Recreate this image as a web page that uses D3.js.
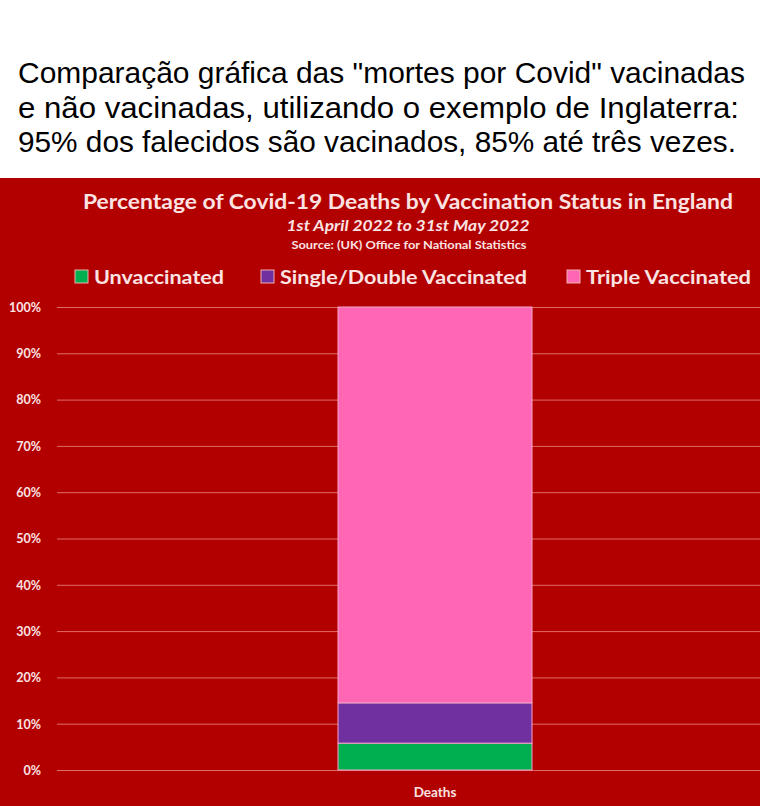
<!DOCTYPE html>
<html><head><meta charset="utf-8">
<script src="https://cdn.jsdelivr.net/npm/d3@7"></script>
<style>html,body{margin:0;padding:0;background:#fff;}svg{display:block;}</style>
</head><body>
<svg id="c" width="760" height="806"></svg>
<script>
const captionLines = [
  'Comparação gráfica das "mortes por Covid" vacinadas',
  'e não vacinadas, utilizando o exemplo de Inglaterra:',
  '95% dos falecidos são vacinados, 85% até três vezes.'
];
const chartTitle = "Percentage of Covid-19 Deaths by Vaccination Status in England";
const chartSubtitle = "1st April 2022 to 31st May 2022";
const chartSource = "Source: (UK) Office for National Statistics";
const categories = ["Deaths"];
const seriesNames = ["Unvaccinated", "Single/Double Vaccinated", "Triple Vaccinated"];
const seriesColors = ["#00b050", "#7030a0", "#ff66b3"];
const unvaccinated = [5.8];
const singleDouble = [8.7];
const triple = [85.5];
const yTicks = [0,10,20,30,40,50,60,70,80,90,100];

const svg = d3.select("#c");
const W = 760, H = 806;
const bg = "#b20000";
const txt = "#fbe3e3";

// caption
const capY = [83, 118, 152];
captionLines.forEach((t,i)=>{
  svg.append("text").attr("x",18).attr("y",capY[i])
    .attr("font-family","Liberation Sans, Arial, sans-serif")
    .attr("font-size",30).attr("fill","#000")
    .attr("textLength", i===0?727:(i===1?721:718)).attr("lengthAdjust","spacingAndGlyphs")
    .text(t);
});

// red panel
svg.append("rect").attr("x",0).attr("y",178).attr("width",W).attr("height",H-178).attr("fill",bg);

const ff = "Lato, 'Open Sans', sans-serif";
svg.append("text").attr("x",408).attr("y",209).attr("text-anchor","middle")
  .attr("font-family",ff).attr("font-weight","bold").attr("font-size",21).attr("fill",txt)
  .attr("textLength",650).attr("lengthAdjust","spacingAndGlyphs").text(chartTitle);
svg.append("text").attr("x",408).attr("y",231).attr("text-anchor","middle")
  .attr("font-family",ff).attr("font-weight","bold").attr("font-style","italic").attr("font-size",15).attr("fill",txt)
  .attr("textLength",243).attr("lengthAdjust","spacingAndGlyphs").text(chartSubtitle);
svg.append("text").attr("x",409).attr("y",249).attr("text-anchor","middle")
  .attr("font-family",ff).attr("font-weight","bold").attr("font-size",11).attr("fill",txt)
  .attr("textLength",235).attr("lengthAdjust","spacingAndGlyphs").text(chartSource);

// legend
const legX = [75, 261, 567];
const legW = [130, 247, 165];
seriesNames.forEach((n,i)=>{
  svg.append("rect").attr("x",legX[i]).attr("y",270).attr("width",13).attr("height",13)
    .attr("fill",seriesColors[i]).attr("stroke","#f2b0b0").attr("stroke-width",1);
  svg.append("text").attr("x",legX[i]+19).attr("y",284)
    .attr("font-family",ff).attr("font-weight","bold").attr("font-size",19).attr("fill",txt)
    .attr("textLength",legW[i]).attr("lengthAdjust","spacingAndGlyphs").text(n);
});

// scales
const y = d3.scaleLinear().domain([0,100]).range([770,307]);
const x = d3.scaleBand().domain(categories).range([338,532]).padding(0);

// gridlines
svg.append("g").selectAll("line").data(yTicks).join("line")
  .attr("x1",57).attr("x2",W).attr("y1",d=>y(d)+0.5).attr("y2",d=>y(d)+0.5)
  .attr("stroke","#e06a6a").attr("stroke-width",1);

// y axis labels
const yAxis = d3.axisLeft(y).tickValues(yTicks).tickFormat(d=>d+"%").tickSize(0).tickPadding(0);
const ga = svg.append("g").attr("transform","translate(41,0)").call(yAxis);
ga.select(".domain").remove();
ga.selectAll("text").attr("font-family",ff).attr("font-weight","bold").attr("font-size",12.5).attr("fill",txt).attr("dy","0.35em");

// stack
const rows = categories.map((c,i)=>({cat:c, "Unvaccinated":unvaccinated[i], "Single/Double Vaccinated":singleDouble[i], "Triple Vaccinated":triple[i]}));
const stack = d3.stack().keys(seriesNames)(rows);
svg.append("g").selectAll("g").data(stack).join("g")
  .attr("fill",(d,i)=>seriesColors[i])
  .selectAll("rect").data(d=>d).join("rect")
  .attr("x",d=>x(d.data.cat)).attr("width",x.bandwidth())
  .attr("y",d=>y(d[1])).attr("height",d=>y(d[0])-y(d[1]))
  .attr("stroke","#f4a6c8").attr("stroke-width",1);

// x axis label
const xAxis = d3.axisBottom(x).tickSize(0).tickPadding(0);
const gx = svg.append("g").attr("transform","translate(0,797)").call(xAxis);
gx.select(".domain").remove();
gx.selectAll("text").attr("font-family",ff).attr("font-weight","bold").attr("font-size",13.5).attr("fill",txt).attr("dy","0");
</script>
</body></html>
